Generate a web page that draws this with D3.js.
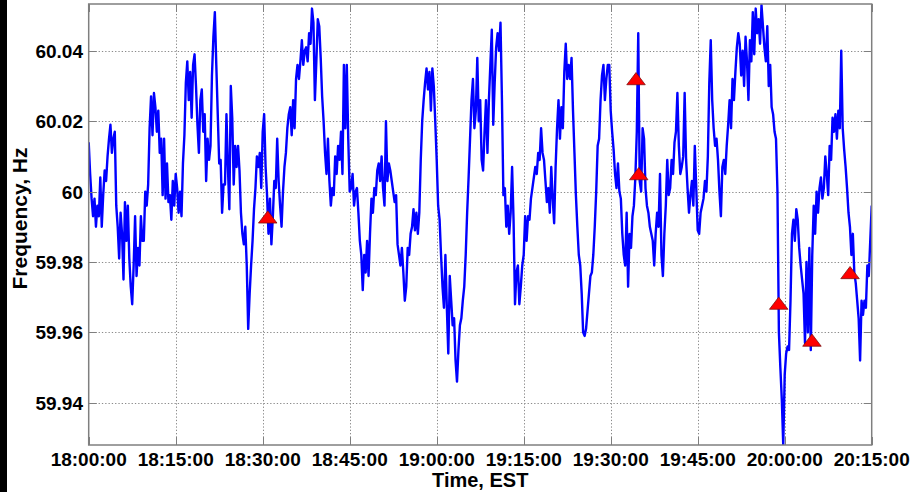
<!DOCTYPE html>
<html>
<head>
<meta charset="utf-8">
<script src="https://cdn.jsdelivr.net/npm/d3@7"></script>
<style>
  body { margin: 0; background: #fff; }
  svg { display: block; font-family: "Liberation Sans", Arial, sans-serif; }
</style>
</head>
<body>
<svg id="chart" width="922" height="492"></svg>
<script>
// frequency record, one sample every quarter minute from 18:00:00
const START = '18:00:00';
const STEP_MIN = 0.25;
const freq = [
  // 18:00 - 18:22:30
  60.014, 60.005, 59.998, 59.993, 59.998, 59.990, 59.996, 59.993, 60.004, 59.990,
  59.999, 60.006, 60.003, 60.010, 60.015, 60.019, 60.011, 60.015, 60.017, 59.996,
  59.990, 59.981, 59.994, 59.988, 59.975, 59.997, 59.986, 59.996, 59.981, 59.973,
  59.968, 59.979, 59.993, 59.976, 59.984, 59.979, 59.993, 59.986, 59.986, 60.000,
  59.996, 60.002, 60.018, 60.027, 60.016, 60.028, 60.024, 60.017, 60.023, 60.011,
  60.015, 59.999, 60.015, 59.998, 60.008, 59.997, 59.999, 59.992, 60.003, 59.996,
  60.005, 60.001, 59.994, 60.000, 59.993, 60.008, 60.016, 60.031, 60.037, 60.026,
  60.034, 60.021, 60.036, 60.039, 60.030, 60.019, 60.011, 60.026, 60.029, 60.017,
  60.022, 60.003, 60.015, 60.009, 60.013, 60.033, 60.044, 60.051, 60.036, 60.022,
  60.008,
  // 18:22:45 - 18:45:00
  60.009, 59.994, 60.002, 60.002, 60.022, 60.007, 59.995, 60.030, 60.021, 60.002,
  60.013, 60.007, 60.013, 60.006, 59.994, 59.988, 59.985, 59.990, 59.979, 59.961,
  59.971, 59.979, 59.986, 59.995, 60.001, 60.010, 60.007, 60.011, 60.001, 60.017,
  60.022, 60.007, 59.999, 59.988, 59.998, 59.985, 59.993, 60.003, 60.001, 60.015,
  60.003, 59.996, 59.990, 60.000, 60.007, 60.011, 60.018, 60.022, 60.024, 60.016,
  60.026, 60.018, 60.032, 60.036, 60.032, 60.037, 60.043, 60.036, 60.040, 60.041,
  60.037, 60.045, 60.042, 60.052, 60.048, 60.026, 60.037, 60.049, 60.047, 60.038,
  60.027, 60.020, 60.011, 60.005, 60.015, 60.003, 59.996, 60.001, 59.999, 60.010,
  60.005, 60.013, 60.009, 60.017, 60.005, 60.036, 60.018, 60.036, 60.015, 60.000,
  // 18:45:15 - 19:07:30
  60.001, 60.005, 59.996, 60.000, 60.001, 59.994, 59.986, 59.982, 59.972, 59.982,
  59.977, 59.986, 59.976, 59.988, 59.998, 59.994, 60.001, 59.999, 60.006, 60.008,
  60.003, 60.010, 60.001, 59.996, 60.020, 60.003, 60.008, 60.006, 60.003, 60.000,
  59.997, 59.999, 59.985, 59.982, 59.979, 59.984, 59.977, 59.969, 59.973, 59.984,
  59.982, 59.988, 59.990, 59.995, 59.989, 59.994, 59.988, 59.994, 60.009, 60.020,
  60.026, 60.031, 60.035, 60.029, 60.034, 60.023, 60.035, 60.030, 60.020, 60.009,
  59.996, 59.992, 59.982, 59.973, 59.967, 59.982, 59.967, 59.954, 59.976, 59.969,
  59.962, 59.964, 59.952, 59.946, 59.955, 59.962, 59.964, 59.969, 59.973, 59.982,
  59.994, 60.004, 60.015, 60.026, 60.032, 60.018, 60.023, 60.038, 60.020, 60.026,
  // 19:07:45 - 19:29:30
  60.009, 60.006, 60.017, 60.026, 60.011, 60.026, 60.036, 60.046, 60.019, 60.031,
  60.041, 60.045, 60.040, 60.048, 60.026, 59.999, 60.001, 59.990, 59.996, 59.988,
  59.994, 60.007, 59.992, 59.968, 59.977, 59.979, 59.968, 59.973, 59.979, 59.982,
  59.993, 59.986, 59.993, 59.992, 59.998, 60.001, 60.004, 60.007, 60.005, 60.011,
  60.009, 60.018, 60.011, 60.009, 60.003, 59.997, 60.001, 59.994, 60.007, 59.998,
  59.991, 60.007, 60.018, 60.026, 60.015, 60.024, 60.018, 60.034, 60.042, 60.032,
  60.036, 60.032, 60.038, 60.023, 60.011, 59.999, 59.990, 59.982, 59.979, 59.971,
  59.960, 59.959, 59.961, 59.966, 59.971, 59.976, 59.977, 59.982, 59.990, 60.000,
  60.013, 60.015, 60.026, 60.033, 60.036, 60.026, 60.032, 60.036,
  // 19:29:45 - 19:52:00
  60.036, 60.023, 60.017, 60.012, 60.005, 60.001, 60.008, 60.000, 59.998, 59.988,
  59.982, 59.979, 59.994, 59.973, 59.988, 59.984, 59.993, 59.996, 60.004, 60.017,
  60.045, 60.003, 60.000, 60.018, 60.015, 60.001, 59.996, 59.994, 59.990, 59.988,
  59.986, 59.979, 59.988, 59.994, 59.990, 60.005, 59.982, 59.976, 59.988, 59.996,
  60.009, 59.999, 60.001, 60.009, 60.005, 60.014, 60.017, 60.028, 60.013, 60.005,
  60.007, 60.010, 60.028, 60.009, 60.001, 59.994, 59.999, 60.003, 59.996, 60.013,
  60.001, 59.989, 59.988, 59.994, 59.996, 59.998, 60.003, 60.000, 60.010, 60.031,
  60.043, 60.026, 60.018, 60.013, 60.015, 60.009, 60.000, 59.993, 60.007, 60.009,
  60.005, 60.013, 60.019, 60.026, 60.018, 60.032, 60.026, 60.034, 60.041, 60.045,
  // 19:52:15 - 20:15:00
  60.042, 60.033, 60.040, 60.030, 60.044, 60.037, 60.026, 60.043, 60.037, 60.051,
  60.039, 60.052, 60.045, 60.049, 60.042, 60.053, 60.047, 60.041, 60.037, 60.047,
  60.030, 60.036, 60.024, 60.022, 60.017, 60.015, 60.000, 59.960, 59.950, 59.941,
  59.928, 59.948, 59.954, 59.956, 59.955, 59.969, 59.988, 59.992, 59.986, 59.995,
  59.992, 59.984, 59.979, 59.975, 59.971, 59.957, 59.980, 59.960, 59.984, 59.955,
  59.982, 59.996, 59.988, 60.000, 59.994, 60.001, 60.004, 59.998, 60.001, 60.010,
  60.005, 59.999, 60.013, 60.009, 60.021, 60.017, 60.022, 60.015, 60.023, 60.018,
  60.040, 60.018, 60.012, 60.007, 60.001, 59.994, 59.990, 59.982, 59.988, 59.977,
  59.974, 59.969, 59.964, 59.952, 59.969, 59.965, 59.969, 59.967, 59.979, 59.976,
  59.986, 59.996
];

// marked events (red triangles)
const eventTimes = ['18:30:52', '19:34:22', '19:34:50', '19:58:58', '20:04:42', '20:11:16'];
const eventFreq = [59.9925, 60.0318, 60.0048, 59.968, 59.9575, 59.9767];

const yTicks = [59.94, 59.96, 59.98, 60, 60.02, 60.04];
const yTickLabels = ['59.94', '59.96', '59.98', '60', '60.02', '60.04'];
const xTickLabels = ['18:00:00', '18:15:00', '18:30:00', '18:45:00', '19:00:00',
                     '19:15:00', '19:30:00', '19:45:00', '20:00:00', '20:15:00'];
const yRange = [59.928, 60.0533];

const parse = d3.timeParse('%H:%M:%S');
const t0 = parse(START);
const series = freq.map((v, i) => ({ t: new Date(t0.getTime() + i * STEP_MIN * 60000), v }));
const events = eventTimes.map((s, i) => ({ t: parse(s), v: eventFreq[i] }));
const xTicks = xTickLabels.map(parse);

const L = 88.7, R = 871.7, T = 4, B = 445;
const x = d3.scaleTime().domain([xTicks[0], xTicks[xTicks.length - 1]]).range([L, R]);
const y = d3.scaleLinear().domain(yRange).range([B, T]);

const svg = d3.select('#chart');
svg.append('rect').attr('width', 922).attr('height', 492).attr('fill', '#fff');
svg.append('rect').attr('x', 0).attr('y', 0).attr('width', 7).attr('height', 492).attr('fill', '#000');

svg.append('defs').append('clipPath').attr('id', 'plot')
  .append('rect').attr('x', L).attr('y', T).attr('width', R - L).attr('height', B - T);

// grid
const grid = svg.append('g').attr('stroke', '#8a8a8a').attr('stroke-width', 1)
  .attr('stroke-dasharray', '1.3,2').attr('fill', 'none');
grid.selectAll('.gx').data(xTicks.slice(1, -1)).join('line')
  .attr('x1', d => Math.round(x(d)) + 0.5).attr('x2', d => Math.round(x(d)) + 0.5)
  .attr('y1', T).attr('y2', B);
grid.selectAll('.gy').data(yTicks).join('line')
  .attr('x1', L).attr('x2', R)
  .attr('y1', d => Math.round(y(d)) + 0.5).attr('y2', d => Math.round(y(d)) + 0.5);

// trace
svg.append('path').datum(series)
  .attr('clip-path', 'url(#plot)')
  .attr('fill', 'none').attr('stroke', '#0000ff').attr('stroke-width', 2.4)
  .attr('stroke-linejoin', 'round')
  .attr('d', d3.line().x(d => x(d.t)).y(d => y(d.v)));

// event markers
const tri = d3.symbol().type(d3.symbolTriangle).size(95);
svg.append('g').selectAll('path').data(events).join('path')
  .attr('transform', d => `translate(${x(d.t)},${y(d.v) + 1}) scale(1.25,0.95)`)
  .attr('d', tri)
  .attr('fill', '#ff0000').attr('stroke', '#7a1010').attr('stroke-width', 0.7);

// axes box + ticks
const ax = svg.append('g').attr('stroke', '#7f7f7f').attr('fill', 'none');
ax.append('rect').attr('x', L).attr('y', T).attr('width', R - L).attr('height', B - T)
  .attr('stroke-width', 1.5);
const TL = 8;
ax.selectAll('.tx').data(xTicks).join('path')
  .attr('d', d => { const px = Math.round(x(d)) + 0.5; return `M${px},${B}V${B - TL}M${px},${T}V${T + TL}`; });
ax.selectAll('.ty').data(yTicks).join('path')
  .attr('d', d => { const py = Math.round(y(d)) + 0.5; return `M${L},${py}H${L + TL}M${R},${py}H${R - TL}`; });

// tick labels
svg.append('g').selectAll('text').data(xTicks).join('text')
  .attr('x', d => x(d)).attr('y', 466)
  .attr('text-anchor', 'middle').attr('font-size', 19).attr('font-weight', 'bold')
  .attr('fill', '#000')
  .text((d, i) => xTickLabels[i]);
svg.append('g').selectAll('text').data(yTicks).join('text')
  .attr('x', 83).attr('y', d => y(d) + 7)
  .attr('text-anchor', 'end').attr('font-size', 19).attr('font-weight', 'bold')
  .attr('fill', '#000')
  .text((d, i) => yTickLabels[i]);

// axis titles
svg.append('text').attr('x', (L + R) / 2).attr('y', 487)
  .attr('text-anchor', 'middle').attr('font-size', 20).attr('font-weight', 'bold')
  .text('Time, EST');
svg.append('text').attr('transform', `translate(27,${(T + B) / 2 - 6}) rotate(-90)`)
  .attr('text-anchor', 'middle').attr('font-size', 21).attr('font-weight', 'bold')
  .text('Frequency, Hz');
</script>
</body>
</html>
